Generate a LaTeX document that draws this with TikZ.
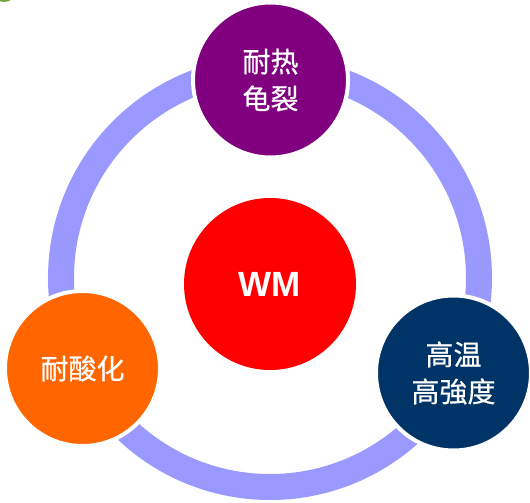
\documentclass[tikz,border=0pt]{standalone}
\usepackage{fontspec}
\setmainfont{Liberation Sans}
\newfontfamily\cjk{Noto Sans CJK SC}[FakeBold=0.6]
\definecolor{ringc}{HTML}{9999FF}
\definecolor{purp}{HTML}{800080}
\definecolor{navy}{HTML}{003366}
\definecolor{orng}{HTML}{FF6600}
\definecolor{redc}{HTML}{FF0000}
\definecolor{grn}{HTML}{77A33B}
\begin{document}
\begin{tikzpicture}[x=1pt,y=-1pt,
  bubble/.style={circle, draw=white, line width=4pt, minimum size=155pt, inner sep=0pt,
    text=white, align=center, font=\cjk\fontsize{28}{37}\selectfont},
  ringstyle/.style={circle, draw=ringc, line width=26pt, minimum size=418pt, inner sep=0pt}]
\useasboundingbox (0,0) rectangle (530,503);
\clip (0,0) rectangle (530,503);
\fill[grn] (4,-9) ellipse (12pt and 11pt);
\node[ringstyle] (ring) at (270,278) {};
\node[bubble, fill=purp] (top) at (270.5,80) {耐热\\龟裂};
\node[bubble, fill=orng] (left) at (82.5,368.5) {耐酸化};
\node[bubble, fill=navy] (right) at (453.5,373) {高温\\高強度};
\node[circle, fill=redc, minimum size=172pt, inner sep=0pt, text=white,
  font=\bfseries\fontsize{35}{40}\selectfont] (wm) at (270,284) {WM};
\end{tikzpicture}
\end{document}
